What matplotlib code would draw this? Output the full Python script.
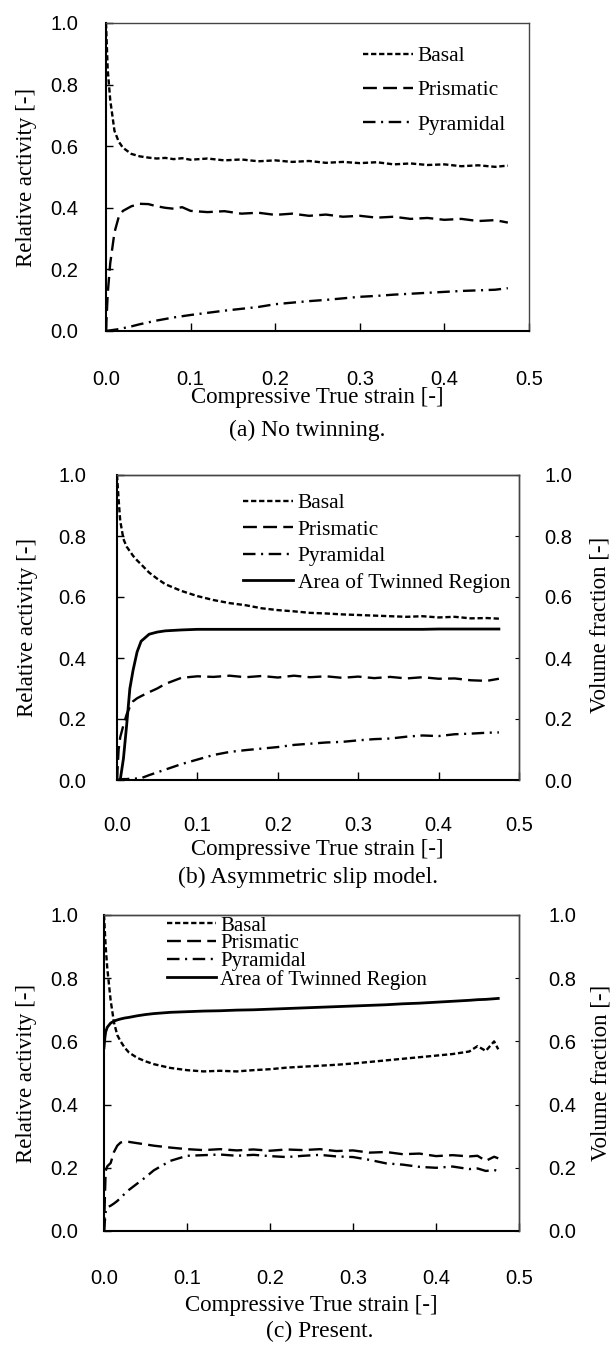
import matplotlib
matplotlib.use("Agg")
import matplotlib.pyplot as plt

plt.rcParams['lines.scale_dashes'] = False
SERIF = 'Liberation Serif'
SANS = 'Liberation Sans'

# ---------------- data ----------------
x_ticks = [0.0, 0.1, 0.2, 0.3, 0.4, 0.5]
x_tick_labels = ["0.0", "0.1", "0.2", "0.3", "0.4", "0.5"]
y_ticks = [0.0, 0.2, 0.4, 0.6, 0.8, 1.0]
y_tick_labels = ["0.0", "0.2", "0.4", "0.6", "0.8", "1.0"]

series_names = ["Basal", "Prismatic", "Pyramidal", "Area of Twinned Region"]

# (a) No twinning
strain_a = [0, 0.002, 0.005, 0.01, 0.015, 0.02, 0.03, 0.04, 0.05, 0.06, 0.07, 0.08, 0.09,
            0.10, 0.12, 0.14, 0.16, 0.18, 0.20, 0.22, 0.24, 0.26, 0.28, 0.30, 0.32, 0.34,
            0.36, 0.38, 0.40, 0.42, 0.44, 0.46, 0.475]
basal_a = [1.0, 0.85, 0.75, 0.65, 0.615, 0.595, 0.575, 0.567, 0.563, 0.560, 0.562, 0.558, 0.561,
           0.556, 0.560, 0.554, 0.557, 0.551, 0.554, 0.549, 0.552, 0.546, 0.549, 0.545, 0.548,
           0.541, 0.544, 0.539, 0.541, 0.535, 0.538, 0.533, 0.537]
prism_a = [0.0, 0.12, 0.22, 0.32, 0.37, 0.39, 0.405, 0.413, 0.412, 0.405, 0.400, 0.397, 0.402,
           0.390, 0.386, 0.389, 0.381, 0.384, 0.377, 0.381, 0.374, 0.378, 0.371, 0.374, 0.368,
           0.371, 0.364, 0.367, 0.361, 0.364, 0.357, 0.360, 0.352]
pyr_a = [0.0, 0.001, 0.002, 0.004, 0.006, 0.009, 0.015, 0.022, 0.028, 0.034, 0.039, 0.044, 0.048,
         0.052, 0.059, 0.066, 0.072, 0.078, 0.087, 0.092, 0.097, 0.101, 0.106, 0.111, 0.114,
         0.118, 0.121, 0.124, 0.127, 0.130, 0.132, 0.134, 0.139]

# (b) Asymmetric slip model
strain_b = [0, 0.002, 0.004, 0.008, 0.012, 0.016, 0.02, 0.025, 0.03, 0.04, 0.05, 0.06, 0.08,
            0.10, 0.12, 0.14, 0.16, 0.18, 0.20, 0.22, 0.24, 0.26, 0.28, 0.30, 0.32, 0.34,
            0.36, 0.38, 0.40, 0.42, 0.44, 0.46, 0.475]
basal_b = [1.0, 0.92, 0.85, 0.79, 0.765, 0.75, 0.735, 0.72, 0.707, 0.68, 0.66, 0.642, 0.62,
           0.603, 0.59, 0.58, 0.573, 0.563, 0.557, 0.553, 0.548, 0.546, 0.543, 0.541, 0.539,
           0.537, 0.535, 0.537, 0.533, 0.535, 0.530, 0.531, 0.529]
prism_b = [0.0, 0.10, 0.14, 0.18, 0.215, 0.24, 0.258, 0.268, 0.275, 0.288, 0.30, 0.315, 0.335,
           0.340, 0.338, 0.342, 0.337, 0.341, 0.336, 0.342, 0.337, 0.340, 0.335, 0.339, 0.334,
           0.338, 0.333, 0.337, 0.332, 0.333, 0.327, 0.325, 0.332]
pyr_b = [0.0, 0.0, 0.002, 0.003, 0.003, 0.004, 0.004, 0.005, 0.006, 0.016, 0.025, 0.034, 0.052,
         0.067, 0.082, 0.092, 0.098, 0.103, 0.108, 0.115, 0.119, 0.123, 0.125, 0.130, 0.134,
         0.136, 0.142, 0.146, 0.144, 0.150, 0.152, 0.155, 0.156]
twin_b = [0.0, 0.0, 0.0, 0.07, 0.18, 0.30, 0.36, 0.42, 0.455, 0.478, 0.485, 0.489, 0.492,
          0.494, 0.494, 0.494, 0.494, 0.494, 0.494, 0.494, 0.494, 0.494, 0.494, 0.494, 0.494,
          0.494, 0.494, 0.494, 0.495, 0.495, 0.495, 0.495, 0.495]

# (c) Present
strain_c = [0, 0.001, 0.002, 0.004, 0.008, 0.012, 0.016, 0.02, 0.025, 0.03, 0.04, 0.05, 0.06,
            0.08, 0.10, 0.12, 0.14, 0.16, 0.18, 0.20, 0.22, 0.24, 0.26, 0.28, 0.30, 0.32,
            0.34, 0.36, 0.38, 0.40, 0.42, 0.44, 0.45, 0.46, 0.47, 0.475]
basal_c = [1.0, 0.95, 0.9, 0.83, 0.73, 0.66, 0.62, 0.60, 0.58, 0.565, 0.548, 0.537, 0.528,
           0.516, 0.509, 0.505, 0.507, 0.505, 0.509, 0.512, 0.517, 0.52, 0.523, 0.526, 0.53,
           0.535, 0.54, 0.545, 0.55, 0.555, 0.56, 0.568, 0.585, 0.57, 0.6, 0.575]
prism_c = [0.0, 0.1, 0.19, 0.205, 0.215, 0.25, 0.27, 0.28, 0.283, 0.282, 0.278, 0.274, 0.27,
           0.264, 0.259, 0.256, 0.259, 0.255, 0.258, 0.254, 0.258, 0.256, 0.259, 0.253, 0.255,
           0.248, 0.25, 0.243, 0.245, 0.237, 0.24, 0.236, 0.238, 0.222, 0.235, 0.23]
pyr_c = [0.0, 0.03, 0.06, 0.075, 0.08, 0.087, 0.095, 0.105, 0.118, 0.13, 0.15, 0.17, 0.192,
         0.222, 0.238, 0.24, 0.242, 0.238, 0.241, 0.237, 0.234, 0.238, 0.241, 0.236, 0.234,
         0.225, 0.214, 0.21, 0.203, 0.2, 0.204, 0.196, 0.198, 0.19, 0.193, 0.19]
twin_c = [0.58, 0.61, 0.63, 0.645, 0.658, 0.664, 0.668, 0.671, 0.674, 0.676, 0.681, 0.685, 0.688,
          0.692, 0.694, 0.696, 0.697, 0.699, 0.700, 0.702, 0.704, 0.706, 0.708, 0.710, 0.712,
          0.714, 0.716, 0.719, 0.721, 0.724, 0.727, 0.730, 0.732, 0.733, 0.735, 0.736]

x_label = "Compressive True strain [-]"
y_label_left = "Relative activity [-]"
y_label_right = "Volume fraction [-]"
captions = ["(a) No twinning.", "(b) Asymmetric slip model.", "(c) Present."]

# ---------------- styling ----------------
W, H = 612, 1349
LW = 1.7
TICKFS = 14.5
STY = {
    "Basal": dict(ls=(0, (3.8, 2.0)), lw=LW, color='black'),
    "Prismatic": dict(ls=(0, (10, 4.5)), lw=LW, color='black'),
    "Pyramidal": dict(ls=(0, (9, 4, 1.5, 4)), lw=LW, color='black'),
    "Area of Twinned Region": dict(ls='-', lw=2.0, color='black'),
}

fig = plt.figure(figsize=(W / 100, H / 100), dpi=100)


def px_axes(l, t, r, b):
    return fig.add_axes([l / W, 1 - b / H, (r - l) / W, (b - t) / H])


def ftext(x, y, s, **kw):
    fig.text(x / W, 1 - y / H, s, ha='center', va='center', **kw)


def style_axes(ax, xpad, ypad):
    ax.set_xlim(0, 0.5)
    ax.set_ylim(0, 1)
    ax.set_xticks(x_ticks)
    ax.set_xticklabels(x_tick_labels, fontfamily=SANS, fontsize=TICKFS)
    ax.set_yticks(y_ticks)
    ax.set_yticklabels(y_tick_labels, fontfamily=SANS, fontsize=TICKFS)
    ax.tick_params(axis='x', direction='in', length=6, width=1.0, pad=xpad)
    ax.tick_params(axis='y', direction='in', length=5, width=1.0, pad=ypad)
    for s in ['left', 'bottom']:
        ax.spines[s].set_linewidth(1.5)
        ax.spines[s].set_color('black')
    for s in ['top', 'right']:
        ax.spines[s].set_linewidth(1.0)
        ax.spines[s].set_color('#444444')


def add_right(ax, pad):
    ax2 = ax.twinx()
    ax2.set_ylim(0, 1)
    ax2.set_yticks(y_ticks)
    ax2.set_yticklabels(y_tick_labels, fontfamily=SANS, fontsize=TICKFS)
    ax2.tick_params(axis='y', direction='in', length=3, width=0.8, pad=pad, colors='black')
    for s in ['left', 'bottom']:
        ax2.spines[s].set_visible(False)
    ax2.spines['top'].set_linewidth(1.0)
    ax2.spines['top'].set_color('#444444')
    ax2.spines['right'].set_linewidth(1.0)
    ax2.spines['right'].set_color('#444444')
    return ax2


def legend(ax, handles, x, y, spacing, size=15.5):
    ax.legend(handles=handles, loc='upper left', bbox_to_anchor=(x, y), frameon=False,
              prop={'family': SERIF, 'size': size}, handlelength=2.35, handletextpad=0.2,
              labelspacing=spacing, borderpad=0, borderaxespad=0)


# ---------------- panel (a) ----------------
ax = px_axes(106, 23, 529, 331)
style_axes(ax, 28, 20)
h = []
h += ax.plot(strain_a, basal_a, label=series_names[0], **STY["Basal"])
h += ax.plot(strain_a, prism_a, label=series_names[1], **STY["Prismatic"])
h += ax.plot(strain_a, pyr_a, label=series_names[2], **STY["Pyramidal"])
legend(ax, h, 0.607, 0.925, 0.66)
ftext(27, 177, y_label_left, rotation=90, family=SERIF, fontsize=16.5)
ftext(317, 398, x_label, family=SERIF, fontsize=16.5)
ftext(307, 430, captions[0], family=SERIF, fontsize=17)

# ---------------- panel (b) ----------------
ax = px_axes(117, 475, 519, 780)
style_axes(ax, 26, 22)
ax2 = add_right(ax, 18)
h = []
h += ax.plot(strain_b, basal_b, label=series_names[0], **STY["Basal"])
h += ax.plot(strain_b, prism_b, label=series_names[1], **STY["Prismatic"])
h += ax.plot(strain_b, pyr_b, label=series_names[2], **STY["Pyramidal"])
h += ax2.plot(strain_b, twin_b, label=series_names[3], **STY["Area of Twinned Region"])
legend(ax2, h, 0.313, 0.941, 0.3)
ftext(28, 627, y_label_left, rotation=90, family=SERIF, fontsize=16.5)
ftext(600, 625, y_label_right, rotation=90, family=SERIF, fontsize=16.5)
ftext(317, 850, x_label, family=SERIF, fontsize=16.5)
ftext(308, 877, captions[1], family=SERIF, fontsize=17)

# ---------------- panel (c) ----------------
ax = px_axes(104, 915, 519, 1231)
style_axes(ax, 27, 18.5)
ax2 = add_right(ax, 21)
h = []
h += ax.plot(strain_c, basal_c, label=series_names[0], **STY["Basal"])
h += ax.plot(strain_c, prism_c, label=series_names[1], **STY["Prismatic"])
h += ax.plot(strain_c, pyr_c, label=series_names[2], **STY["Pyramidal"])
h += ax2.plot(strain_c, twin_c, label=series_names[3], **STY["Area of Twinned Region"])
legend(ax2, h, 0.152, 0.997, -0.08, size=15)
ftext(27, 1073, y_label_left, rotation=90, family=SERIF, fontsize=16.5)
ftext(601, 1073, y_label_right, rotation=90, family=SERIF, fontsize=16.5)
ftext(311, 1305, x_label, family=SERIF, fontsize=16.5)
ftext(320, 1331, captions[2], family=SERIF, fontsize=17)

fig.savefig("out.png", dpi=100)
